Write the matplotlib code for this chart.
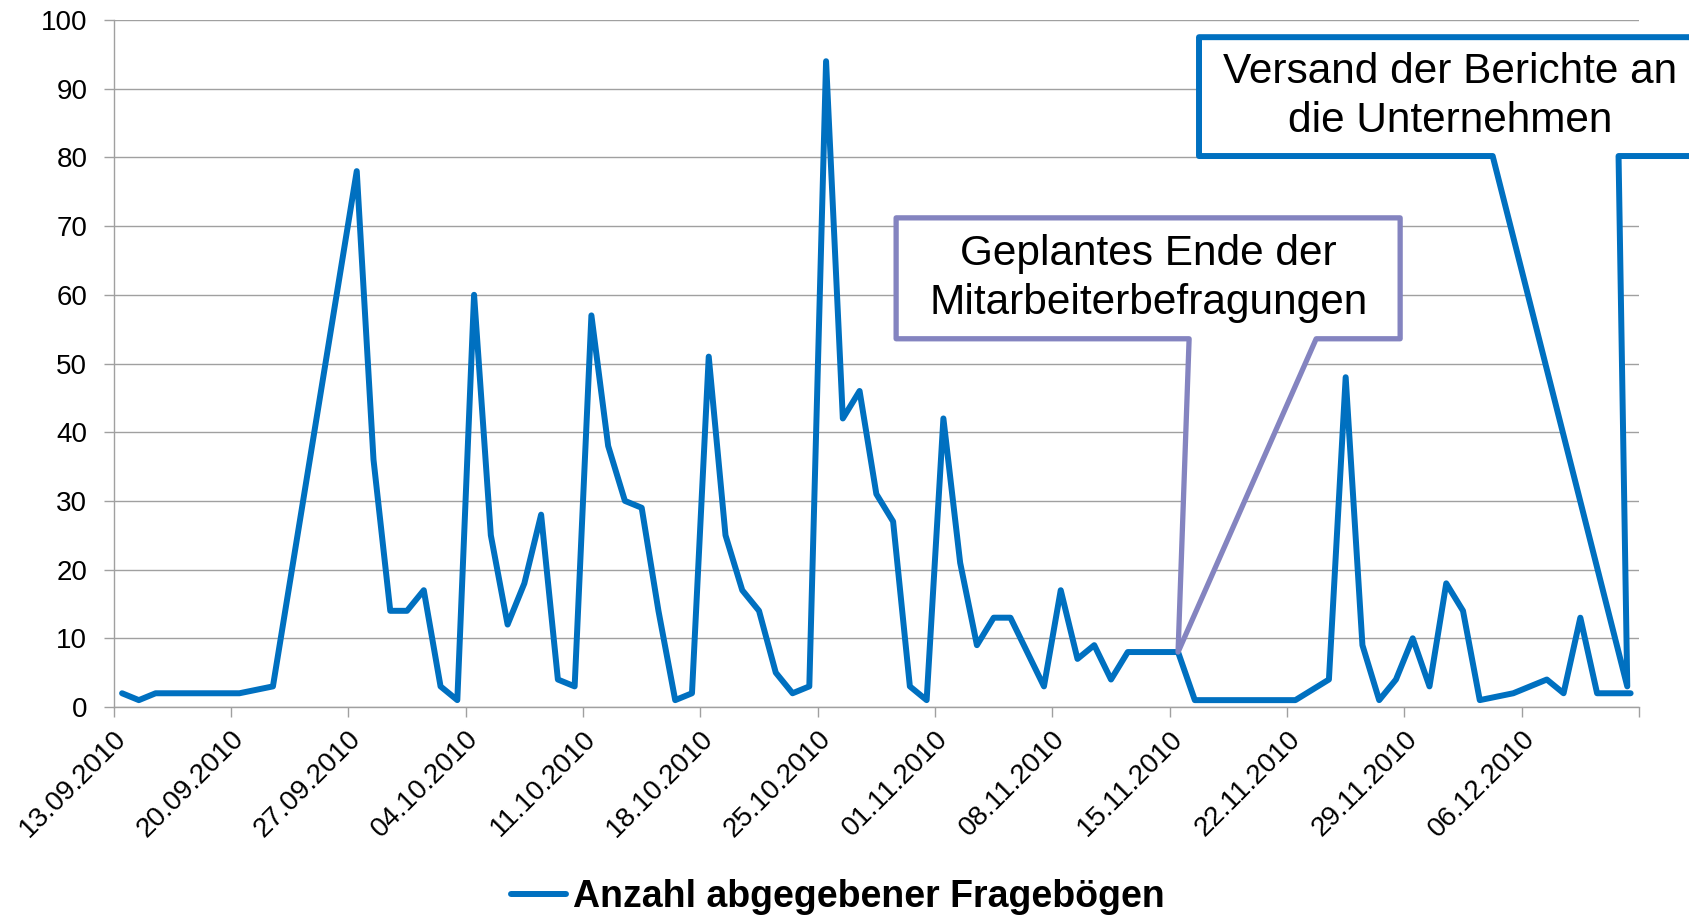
import matplotlib
matplotlib.use("Agg")
import matplotlib.pyplot as plt
import matplotlib.dates as mdates
from matplotlib.patches import Polygon
from matplotlib.transforms import ScaledTranslation
from datetime import datetime

# ---------------- data ----------------
dates = ["13.09.2010", "14.09.2010", "15.09.2010", "16.09.2010", "17.09.2010", "18.09.2010",
         "19.09.2010", "20.09.2010", "22.09.2010", "27.09.2010", "28.09.2010", "29.09.2010",
         "30.09.2010", "01.10.2010", "02.10.2010", "03.10.2010", "04.10.2010", "05.10.2010",
         "06.10.2010", "07.10.2010", "08.10.2010", "09.10.2010", "10.10.2010", "11.10.2010",
         "12.10.2010", "13.10.2010", "14.10.2010", "15.10.2010", "16.10.2010", "17.10.2010",
         "18.10.2010", "19.10.2010", "20.10.2010", "21.10.2010", "22.10.2010", "23.10.2010",
         "24.10.2010", "25.10.2010", "26.10.2010", "27.10.2010", "28.10.2010", "29.10.2010",
         "30.10.2010", "31.10.2010", "01.11.2010", "02.11.2010", "03.11.2010", "04.11.2010",
         "05.11.2010", "07.11.2010", "08.11.2010", "09.11.2010", "10.11.2010", "11.11.2010",
         "12.11.2010", "13.11.2010", "14.11.2010", "15.11.2010", "16.11.2010", "17.11.2010",
         "18.11.2010", "19.11.2010", "20.11.2010", "21.11.2010", "22.11.2010", "24.11.2010",
         "25.11.2010", "26.11.2010", "27.11.2010", "28.11.2010", "29.11.2010", "30.11.2010",
         "01.12.2010", "02.12.2010", "03.12.2010", "05.12.2010", "07.12.2010", "08.12.2010",
         "09.12.2010", "10.12.2010", "12.12.2010"]
counts = [2, 1, 2, 2, 2, 2,
          2, 2, 3, 78, 36, 14,
          14, 17, 3, 1, 60, 25,
          12, 18, 28, 4, 3, 57,
          38, 30, 29, 14, 1, 2,
          51, 25, 17, 14, 5, 2,
          3, 94, 42, 46, 31, 27,
          3, 1, 42, 21, 9, 13,
          13, 3, 17, 7, 9, 4,
          8, 8, 8, 8, 1, 1,
          1, 1, 1, 1, 1, 4,
          48, 9, 1, 4, 10, 3,
          18, 14, 1, 2, 4, 2,
          13, 2, 2]
series_label = "Anzahl abgegebener Fragebögen"

tick_dates = ["13.09.2010", "20.09.2010", "27.09.2010", "04.10.2010", "11.10.2010",
              "18.10.2010", "25.10.2010", "01.11.2010", "08.11.2010", "15.11.2010",
              "22.11.2010", "29.11.2010", "06.12.2010", "13.12.2010"]
tick_labels = ["13.09.2010", "20.09.2010", "27.09.2010", "04.10.2010", "11.10.2010",
               "18.10.2010", "25.10.2010", "01.11.2010", "08.11.2010", "15.11.2010",
               "22.11.2010", "29.11.2010", "06.12.2010", ""]
y_ticks = [0, 10, 20, 30, 40, 50, 60, 70, 80, 90, 100]

callout1_text = "Geplantes Ende der\nMitarbeiterbefragungen"
callout2_text = "Versand der Berichte an\ndie Unternehmen"

# ---------------- style ----------------
plt.rcParams["font.family"] = ["Liberation Sans", "DejaVu Sans"]
BLUE = "#0070C0"
PURPLE = "#8484C0"
GRID = "#A0A0A0"

def d(s):
    return mdates.date2num(datetime.strptime(s, "%d.%m.%Y"))

xs = [d(s) + 0.5 for s in dates]   # points sit in the middle of each day slot
x0 = d(tick_dates[0])

fig = plt.figure(figsize=(16.89, 9.18), dpi=100)
ax = fig.add_axes([113.7 / 1689, 1 - 707 / 918, (1639 - 113.7) / 1689, (707 - 20) / 918])

ax.plot(xs, counts, color=BLUE, lw=4.3, solid_joinstyle="round", solid_capstyle="round",
        label=series_label, zorder=3)

ax.set_xlim(d(tick_dates[0]), d(tick_dates[-1]))
ax.set_ylim(0, 100)
ax.set_yticks(y_ticks)
ax.set_yticklabels([str(v) for v in y_ticks], fontsize=20)
ax.set_xticks([d(s) for s in tick_dates])
ax.set_xticklabels(tick_labels, fontsize=20, rotation=45, ha="right", va="center",
                   rotation_mode="anchor")

ax.grid(axis="y", color=GRID, lw=1.0, zorder=0)
ax.set_axisbelow(True)
for side in ["top", "right"]:
    ax.spines[side].set_visible(False)
for side in ["left", "bottom"]:
    ax.spines[side].set_color(GRID)
    ax.spines[side].set_linewidth(1.0)
ax.tick_params(axis="both", color=GRID, width=1.0, length=7, direction="out")
ax.tick_params(axis="y", pad=12)
ax.tick_params(axis="x", pad=13)
offset = ScaledTranslation(9 / 100, 0, fig.dpi_scale_trans)
for lab in ax.get_xticklabels():
    lab.set_transform(lab.get_transform() + offset)


def callout(bx0, bx1, by0, by1, base_l, base_r, tip, color, lw, text):
    verts = [(x0 + bx0, by1), (x0 + bx1, by1), (x0 + bx1, by0), (x0 + base_r, by0),
             tip, (x0 + base_l, by0), (x0 + bx0, by0)]
    poly = Polygon(verts, closed=True, facecolor="white", edgecolor=color, lw=lw,
                   joinstyle="round", zorder=5, clip_on=False)
    ax.add_patch(poly)
    ax.text(x0 + (bx0 + bx1) / 2, (by0 + by1) / 2, text, ha="center", va="center",
            multialignment="center", fontsize=30.5, color="black", zorder=6,
            linespacing=1.3, clip_on=False)


# Geplantes Ende: tip on the 15.11 point
i1 = dates.index("15.11.2010")
callout(46.68, 76.75, 53.6, 71.2, 64.16, 71.74, (xs[i1], counts[i1]), PURPLE, 3.8,
        callout1_text)
# Versand der Berichte
callout(64.75, 94.7, 80.2, 97.5, 82.27, 89.78, (x0 + 90.3, 3), BLUE, 4.3, callout2_text)

leg = fig.legend(loc="center", bbox_to_anchor=(838 / 1689, 1 - 897 / 918), frameon=False,
                 prop={"weight": "bold", "size": 27}, handlelength=1.45,
                 handletextpad=0.2)

fig.savefig("out.png", dpi=100)
